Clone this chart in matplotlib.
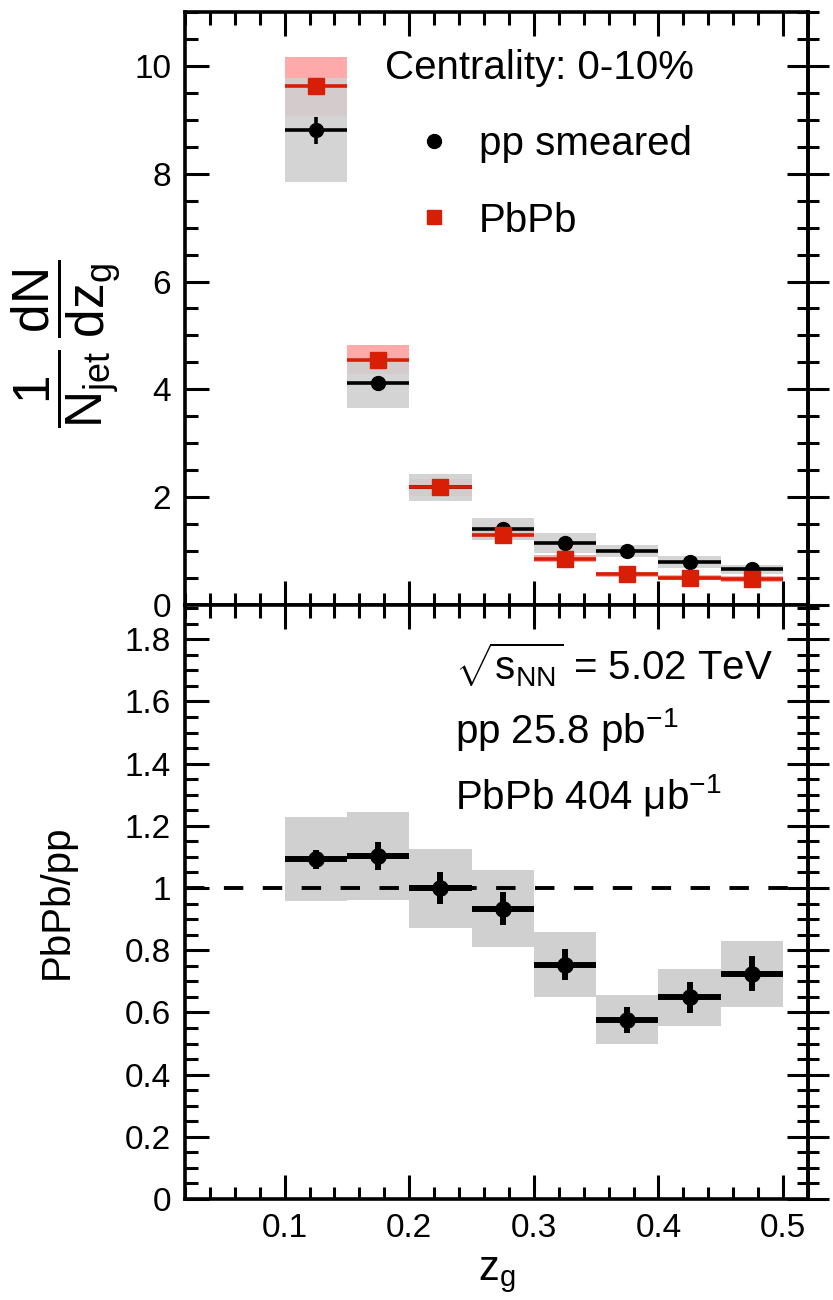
import numpy as np
import matplotlib
matplotlib.use("Agg")
import matplotlib.pyplot as plt
import matplotlib.ticker as mticker
from matplotlib.lines import Line2D

plt.rcParams["font.family"] = ["Liberation Sans", "DejaVu Sans"]
plt.rcParams["mathtext.fontset"] = "custom"
plt.rcParams["mathtext.rm"] = "Liberation Sans"
plt.rcParams["mathtext.it"] = "Liberation Sans"
plt.rcParams["mathtext.default"] = "regular"

# ── Data ───────────────────────────────────────────────────────────────────
bin_lo = np.array([0.10, 0.15, 0.20, 0.25, 0.30, 0.35, 0.40, 0.45])
bin_w = 0.05
zg = bin_lo + bin_w / 2

pp_val  = np.array([8.81, 4.12, 2.18, 1.41, 1.15, 1.00, 0.80, 0.66])
pp_stat = np.array([0.25, 0.10, 0.05, 0.05, 0.04, 0.04, 0.03, 0.03])
pp_syst = np.array([0.96, 0.46, 0.25, 0.20, 0.18, 0.11, 0.11, 0.09])

pbpb_val  = np.array([9.62, 4.55, 2.18, 1.29, 0.86, 0.57, 0.51, 0.48])
pbpb_stat = np.array([0.10, 0.06, 0.04, 0.04, 0.03, 0.03, 0.03, 0.03])
pbpb_syst = np.array([0.55, 0.27, 0.15, 0.08, 0.07, 0.05, 0.05, 0.05])

ratio_val  = np.array([1.092, 1.103, 1.000, 0.934, 0.753, 0.576, 0.648, 0.724])
ratio_stat = np.array([0.030, 0.046, 0.050, 0.054, 0.050, 0.041, 0.050, 0.056])
ratio_syst = np.array([0.135, 0.142, 0.127, 0.124, 0.104, 0.079, 0.092, 0.107])

GRAY = "#d0d0d0"
PINK = "#ffaaaa"
RED = "#d81e05"

fig = plt.figure(figsize=(8.33, 13.0), dpi=100)
ax1 = fig.add_axes([0.222, 0.5346, 0.748, 0.4562])
ax2 = fig.add_axes([0.222, 0.0777, 0.748, 0.4569])


def style_axis(ax, ymajor, yminor):
    ax.set_xlim(0.02, 0.52)
    ax.xaxis.set_major_locator(mticker.MultipleLocator(0.1))
    ax.xaxis.set_minor_locator(mticker.MultipleLocator(0.02))
    ax.yaxis.set_major_locator(mticker.MultipleLocator(ymajor))
    ax.yaxis.set_minor_locator(mticker.MultipleLocator(yminor))
    ax.tick_params(which="both", direction="in", top=True, right=False,
                   width=2.2, labelsize=24)
    ax.tick_params(which="major", length=17)
    ax.tick_params(which="minor", length=9)
    ax.tick_params(axis="y", pad=10)
    ax.tick_params(axis="x", pad=10)
    for sp in ax.spines.values():
        sp.set_linewidth(2.6)
    # right side ticks cross the frame
    sec = ax.secondary_yaxis("right")
    sec.yaxis.set_major_locator(mticker.MultipleLocator(ymajor))
    sec.yaxis.set_minor_locator(mticker.MultipleLocator(yminor))
    sec.tick_params(which="both", direction="inout", width=2.2, labelright=False)
    sec.tick_params(which="major", length=30)
    sec.tick_params(which="minor", length=16)
    sec.spines["right"].set_linewidth(2.6)


# ── Top panel: distributions ───────────────────────────────────────────────
ax1.bar(zg, 2 * pbpb_syst, bottom=pbpb_val - pbpb_syst, width=bin_w,
        color=PINK, linewidth=0, zorder=1)
ax1.bar(zg, 2 * pp_syst, bottom=pp_val - pp_syst, width=bin_w,
        color=GRAY, alpha=0.9, linewidth=0, zorder=2)
ax1.errorbar(zg, pp_val, xerr=bin_w / 2, yerr=pp_stat, fmt="o", color="black",
             ms=10, elinewidth=2.6, capsize=0, zorder=3)
ax1.errorbar(zg, pbpb_val, xerr=bin_w / 2, yerr=pbpb_stat, fmt="s", color=RED,
             ms=11, elinewidth=2.6, capsize=0, zorder=4)
ax1.set_ylim(0, 11)
style_axis(ax1, 2, 0.5)
ax1.tick_params(labelbottom=False)
ax1.set_ylabel(r"$\dfrac{1}{N_{jet}}\,\dfrac{dN}{dz_{g}}$", fontsize=37)
ax1.yaxis.set_label_coords(-0.10, 0.44)

ax1.text(0.321, 0.906, "Centrality: 0-10%", transform=ax1.transAxes,
         fontsize=29, va="center", ha="left")
handles = [
    Line2D([], [], marker="o", color="black", ls="none", ms=10),
    Line2D([], [], marker="s", color=RED, ls="none", ms=10),
]
ax1.legend(handles, ["pp smeared", "PbPb"], loc="upper left",
           bbox_to_anchor=(0.31, 0.87), frameon=False, fontsize=29,
           handlelength=1.0, handletextpad=0.6, labelspacing=0.95)

# ── Bottom panel: ratio ────────────────────────────────────────────────────
ax2.bar(zg, 2 * ratio_syst, bottom=ratio_val - ratio_syst, width=bin_w,
        color=GRAY, linewidth=0, zorder=1)
ax2.axhline(1.0, color="black", lw=2.8, ls=(0, (5, 5)), zorder=2)
ax2.errorbar(zg, ratio_val, xerr=bin_w / 2, yerr=ratio_stat, fmt="o",
             color="black", ms=11, elinewidth=4.3, capsize=0, zorder=3)
ax2.set_ylim(0, 1.91)
style_axis(ax2, 0.2, 0.05)
ax2.yaxis.set_major_formatter(mticker.FuncFormatter(lambda v, _: f"{v:g}"))
ax2.set_ylabel("PbPb/pp", fontsize=29)
ax2.yaxis.set_label_coords(-0.175, 0.5)
ax2.set_xlabel(r"$z_{g}$", fontsize=30, labelpad=8)

ax2.text(0.433, 0.899, r"$\sqrt{s_{NN}}$ = 5.02 TeV", transform=ax2.transAxes,
         fontsize=29, va="center", ha="left")
ax2.text(0.433, 0.79, r"pp 25.8 pb$^{-1}$", transform=ax2.transAxes,
         fontsize=29, va="center", ha="left")
ax2.text(0.433, 0.68, "PbPb 404 \u03bcb$^{-1}$", transform=ax2.transAxes,
         fontsize=29, va="center", ha="left")

fig.savefig("out.png", dpi=100)
